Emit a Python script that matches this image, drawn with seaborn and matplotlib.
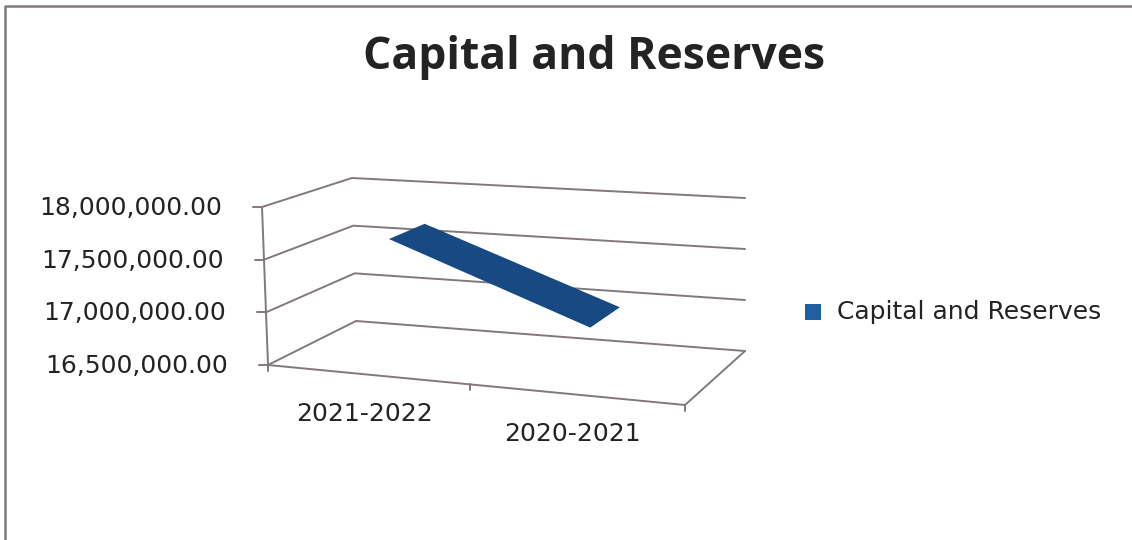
import numpy as np
import pandas as pd
import matplotlib
matplotlib.use("Agg")
import matplotlib.pyplot as plt
import seaborn as sns

# Chart data
title = "Capital and Reserves"
series_name = "Capital and Reserves"
categories = ["2021-2022", "2020-2021"]
values = [17730000, 17050000]
value_ticks = [16500000, 17000000, 17500000, 18000000]

sns.set_theme(style="white")
plt.rcParams["font.family"] = ["DejaVu Sans"]

INK = "#242222"
GRID = "#827a79"
BAND = "#174a82"
KEY = "#1f5fa3"

# Pixel corners of the floor and the wall heights of the oblique box
FLOOR = {"fl": (268, 365), "fr": (685, 405), "bl": (356, 321), "br": (745, 351)}
RISE = {"fl": (-6, -158), "fr": (-6, -163), "bl": (-4, -143), "br": (0, -153)}
VMIN, VMAX = value_ticks[0], value_ticks[-1]


def bilinear(corners, c, d):
    fl, fr, bl, br = (np.array(corners[k], float) for k in ("fl", "fr", "bl", "br"))
    return (1 - d) * ((1 - c) * fl + c * fr) + d * ((1 - c) * bl + c * br)


def project(c, v, d):
    """Map category fraction, value and depth fraction to canvas pixels."""
    frac = (v - VMIN) / (VMAX - VMIN)
    return bilinear(FLOOR, c, d) + frac * bilinear(RISE, c, d)


fig = plt.figure(figsize=(11.32, 5.4), dpi=100, facecolor="white")
ax = fig.add_axes([0, 0, 1, 1])
ax.set_xlim(0, 1132)
ax.set_ylim(540, 0)
ax.axis("off")

# Box lines: wall gridlines, floor edges and tick marks
segments = []
for v in value_ticks:
    segments.append([project(0, v, 0), project(0, v, 1), project(1, v, 1)])
    segments.append([project(0, v, 0), project(0, v, 0) + np.array([-9, 0])])
segments.append([project(0, VMIN, 0), project(0, VMAX, 0)])
segments.append([project(0, VMIN, 0), project(1, VMIN, 0), project(1, VMIN, 1)])
for c in (0, 0.485, 1):
    p = project(c, VMIN, 0)
    segments.append([p, p + np.array([0, 6])])

rows = [
    {"unit": i, "order": j, "px": p[0], "py": p[1]}
    for i, seg in enumerate(segments)
    for j, p in enumerate(seg)
]
sns.lineplot(
    data=pd.DataFrame(rows), x="px", y="py", units="unit", estimator=None,
    sort=False, color=GRID, linewidth=1.4, ax=ax, legend=False,
)
ax.set_xlabel("")
ax.set_ylabel("")
ax.set_xlim(0, 1132)
ax.set_ylim(540, 0)

# Top surface of the area series, a thin ribbon between the two categories
cat_pos = [0.268, 0.75]
depth_front, depth_back = 0.17, 0.6
ribbon = [
    project(cat_pos[0], values[0], depth_front),
    project(cat_pos[1], values[1], depth_front),
    project(cat_pos[1], values[1], depth_back),
    project(cat_pos[0], values[0], depth_back),
]
ax.fill(*zip(*ribbon), color=BAND, linewidth=0, zorder=3)

# Value labels follow the tilt of the axis
for v in value_ticks:
    p = project(0, v, 0)
    ax.text(p[0] - 40, p[1] + 1, f"{v:,.2f}", ha="right", va="center",
            fontsize=18, color=INK)

# Category labels sit below the front floor edge
label_x = [365, 572]
for name, x, c in zip(categories, label_x, (0.25, 0.75)):
    ax.text(x, project(c, VMIN, 0)[1] + 39, name, ha="center", va="center",
            fontsize=18, color=INK)

ax.text(594, 57, title, ha="center", va="center", fontsize=32,
        fontweight="bold", color=INK, family=["Open Sans", "DejaVu Sans"])

# Legend key and label
ax.scatter([813], [312], marker="s", s=125, color=KEY, linewidth=0)
ax.text(837, 312, series_name, ha="left", va="center", fontsize=18,
        color=INK)

# Outer chart frame along the left and top edges
ax.plot([5, 5, 1132], [540, 6, 6], color=GRID, linewidth=1.8)

fig.savefig("out.png", dpi=100, facecolor="white")
